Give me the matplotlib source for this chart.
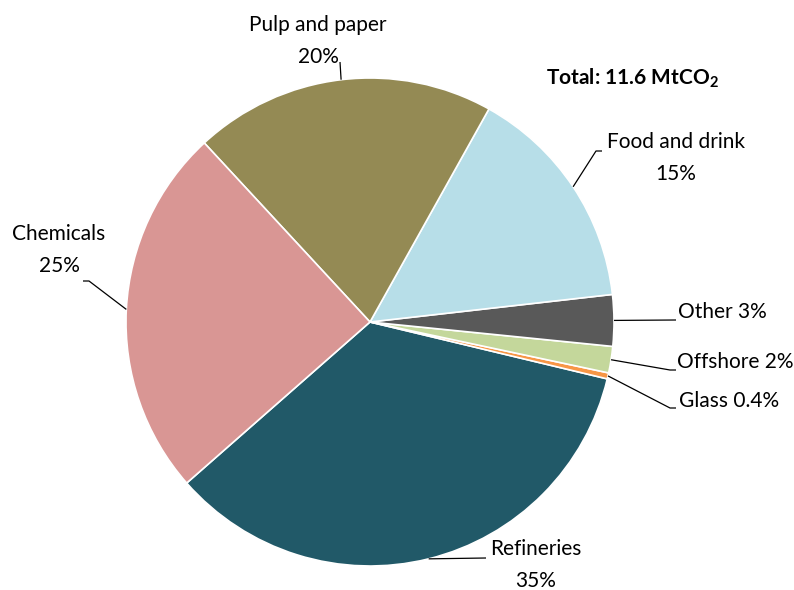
import numpy as np
import matplotlib
matplotlib.use("Agg")
import matplotlib.pyplot as plt

plt.rcParams['font.family'] = ['Lato', 'DejaVu Sans']
plt.rcParams['mathtext.fontset'] = 'custom'
plt.rcParams['mathtext.bf'] = 'Lato:bold'
plt.rcParams['mathtext.rm'] = 'Lato'

# sectors, counter-clockwise from the bottom
sectors = ['Refineries', 'Glass', 'Offshore', 'Other', 'Food and drink', 'Pulp and paper', 'Chemicals']
shares = [34.8, 0.4, 1.75, 3.4, 15.1, 20.0, 24.6]
pct_labels = ['35%', '0.4%', '2%', '3%', '15%', '20%', '25%']
colors = ['#215968', '#F79646', '#C4D79B', '#595959', '#B7DEE8', '#948A54', '#D99694']

W, H = 794, 590
CX, CY, R = 370, 322, 244

fig = plt.figure(figsize=(W / 100, H / 100), dpi=100)
ax = fig.add_axes([0, 0, 1, 1])


def px(x, y):
    # pixel position (top-left origin) -> data coords
    return (x - CX) / R, (CY - y) / R


wedges, _ = ax.pie(shares, colors=colors, startangle=221.3, counterclock=True,
                   radius=1, center=(0, 0), frame=True,
                   wedgeprops=dict(edgecolor='white', linewidth=1.2))
ax.set_xlim(-CX / R, (W - CX) / R)
ax.set_ylim(-(H - CY) / R, CY / R)
ax.axis('off')

# leader line bends and text positions (pixels)
layout = {
    'Refineries':     dict(path=[(486, 558)], text=(536, 565), ha='center', two=True),
    'Glass':          dict(path=[(670, 408), (676, 408)], text=(679, 401), ha='left', two=False),
    'Offshore':       dict(path=[(670, 370), (676, 370)], text=(677, 362), ha='left', two=False),
    'Other':          dict(path=[(676, 320)], text=(678, 312), ha='left', two=False),
    'Food and drink': dict(path=[(596, 151), (602, 151)], text=(676, 158), ha='center', two=True),
    'Pulp and paper': dict(path=[(340, 62)], text=(318, 41), ha='center', two=True),
    'Chemicals':      dict(path=[(89, 281), (83, 281)], text=(59, 250), ha='center', two=True),
}

for w, name, pct in zip(wedges, sectors, pct_labels):
    mid = np.deg2rad((w.theta1 + w.theta2) / 2)
    pts = [(np.cos(mid), np.sin(mid))] + [px(*p) for p in layout[name]['path']]
    xs, ys = zip(*pts)
    ax.plot(xs, ys, color='black', lw=0.9, solid_capstyle='butt')
    lbl = name + ('\n' if layout[name]['two'] else ' ') + pct
    tx, ty = px(*layout[name]['text'])
    ax.text(tx, ty, lbl, ha=layout[name]['ha'], va='center', fontsize=15,
            linespacing=1.75, multialignment='center')

tx, ty = px(632, 78)
ax.text(tx, ty, r'Total: 11.6 MtCO$_\mathbf{2}$', ha='center', va='center',
        fontsize=15, fontweight='bold')

fig.savefig('out.png', dpi=100)
